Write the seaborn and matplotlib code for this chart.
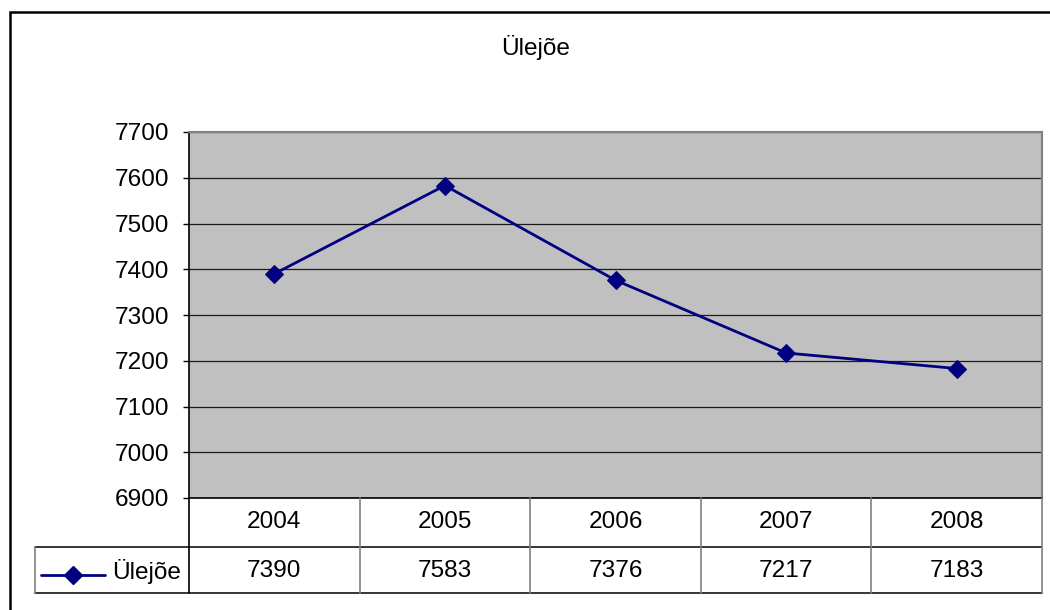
import numpy as np
import pandas as pd
import matplotlib
matplotlib.use("Agg")
import matplotlib.pyplot as plt
import matplotlib.transforms as mtransforms
from matplotlib.lines import Line2D
from matplotlib.patches import Rectangle
import seaborn as sns

# data
years = ["2004", "2005", "2006", "2007", "2008"]
values = [7390, 7583, 7376, 7217, 7183]
series_name = "Ülejõe"
y_ticks = [6900, 7000, 7100, 7200, 7300, 7400, 7500, 7600, 7700]

sns.set_style("white")
plt.rcParams['font.family'] = ['Liberation Sans', 'DejaVu Sans']
plt.rcParams['text.color'] = 'black'
plt.rcParams['ytick.color'] = 'black'
plt.rcParams['ytick.labelcolor'] = 'black'

W, H = 1050, 610
FS = 17.6
NAVY = "#000080"
LW = 2.0
MS = 9

fig = plt.figure(figsize=(W / 100, H / 100), dpi=100)

def fx(px):
    return px / W

def fy(py):
    return 1 - py / H

# plot area in pixels: left 189, top 132, right 1042, bottom 498
ax = fig.add_axes([fx(189), fy(498), fx(1042) - fx(189), fy(132) - fy(498)])
ax.set_facecolor("#C0C0C0")

df = pd.DataFrame({"year": years, "value": values})
sns.lineplot(data=df, x="year", y="value", ax=ax, color=NAVY, linewidth=LW,
             marker="D", markersize=MS, markeredgecolor=NAVY, markerfacecolor=NAVY)

ax.set_xlim(-0.5, len(years) - 0.5)
ax.set_ylim(y_ticks[0], y_ticks[-1])
ax.set_yticks(y_ticks)
ax.set_yticklabels([str(t) for t in y_ticks], fontsize=FS, color="black")
ax.tick_params(axis="y", direction="out", length=4.5, width=1, color="black", pad=10, left=True)
ax.tick_params(axis="x", bottom=False, labelbottom=False)
ax.set_xlabel("")
ax.set_ylabel("")
ax.yaxis.grid(True, color="#1a1a1a", linewidth=0.9)
ax.set_axisbelow(True)
for side in ["left", "bottom"]:
    ax.spines[side].set_color("black")
    ax.spines[side].set_linewidth(1.2)
for side in ["top", "right"]:
    ax.spines[side].set_color("#808080")
    ax.spines[side].set_linewidth(1.5)

# title
fig.text(fx(536), fy(48), series_name, ha="center", va="center", fontsize=FS, color="black")

# data table under the plot
blend = mtransforms.blended_transform_factory(ax.transData, fig.transFigure)
row_top, row_mid, row_bot = 498, 547, 593
n = len(years)
# horizontal lines
fig.add_artist(Line2D([fx(189), fx(1042)], [fy(row_mid), fy(row_mid)], color="black", lw=1.1))
fig.add_artist(Line2D([fx(35), fx(1042)], [fy(row_bot), fy(row_bot)], color="black", lw=1.1))
fig.add_artist(Line2D([fx(35), fx(189)], [fy(row_mid), fy(row_mid)], color="black", lw=1.1))
# vertical lines
for i in range(n + 1):
    xpos = i - 0.5
    col = "black" if i == 0 else "#808080"
    fig.add_artist(Line2D([xpos, xpos], [fy(row_top), fy(row_bot)], color=col,
                          lw=1.2, transform=blend))
fig.add_artist(Line2D([fx(35), fx(35)], [fy(row_mid), fy(row_bot)], color="#808080", lw=1.2))

for i, (yr, v) in enumerate(zip(years, values)):
    fig.text(i, fy((row_top + row_mid) / 2), yr, ha="center", va="center",
             fontsize=FS, color="black", transform=blend)
    fig.text(i, fy((row_mid + row_bot) / 2 + 1), str(v), ha="center", va="center",
             fontsize=FS, color="black", transform=blend)

# legend key in the row header cell
ky = fy(575)
fig.add_artist(Line2D([fx(41), fx(105)], [ky, ky], color=NAVY, lw=LW))
fig.add_artist(Line2D([fx(73)], [ky], color=NAVY, marker="D", markersize=MS,
                      markeredgecolor=NAVY, markerfacecolor=NAVY, lw=0))
fig.text(fx(112), fy(571), series_name, ha="left", va="center", fontsize=FS, color="black")

# outer chart border (only left and top visible)
fig.add_artist(Rectangle((fx(9.5), -0.1), 1.2, fy(12.5) + 0.1, fill=False,
                         edgecolor="black", lw=1.8, transform=fig.transFigure))

fig.savefig("out.png", dpi=100)
